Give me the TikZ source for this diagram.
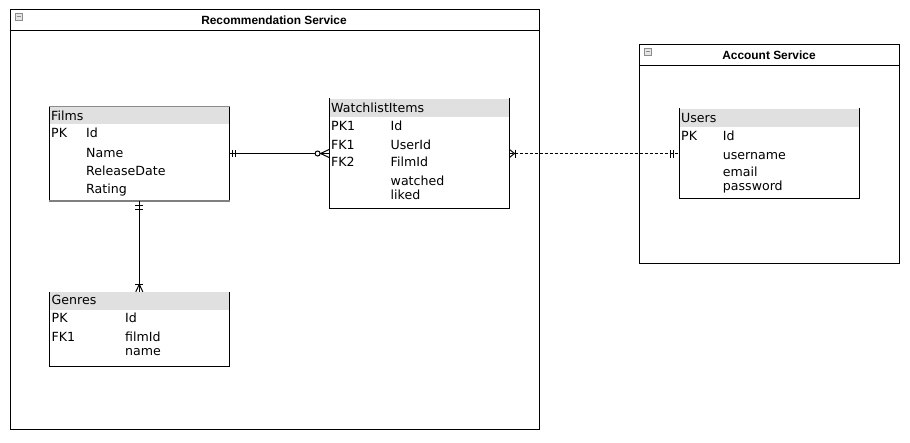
\documentclass[tikz,border=0pt]{standalone}
\usepackage{fontspec}
\setmainfont{DejaVu Sans}
\newfontfamily\titlefont{Liberation Sans}
\definecolor{hdrgray}{HTML}{E0E0E0}
\begin{document}
\begin{tikzpicture}[x=1pt, y=-1pt,
		conn/.style={line width=1pt},
		frame/.style={draw, line width=1pt, fill=white, inner sep=0pt},
		tbl/.style={fill=white, inner sep=0pt, minimum width=180pt,
			path picture={\fill[hdrgray] (path picture bounding box.north west) rectangle ([yshift=-18pt]path picture bounding box.north east);}},
		fld/.style={anchor=base west, inner sep=0pt, font=\fontsize{12.6}{14}\selectfont},
		ttl/.style={inner sep=0pt, font=\titlefont\bfseries\fontsize{11.9}{14}\selectfont},
		icon/.style={draw=black!45, fill=black!10, line width=0.6pt, minimum size=7pt, inner sep=0pt,
			path picture={\draw[line width=1pt] ([xshift=-2pt]path picture bounding box.center) -- ([xshift=2pt]path picture bounding box.center);}}]
		
		\useasboundingbox (0, 0) rectangle (910, 442);
		
		\node [frame, minimum width=529pt, minimum height=420pt] (recsvc) at (274.5, 219) {};
		\node [frame, minimum width=259.5pt, minimum height=219pt] (accsvc) at (769.25, 153.5) {};
		\draw [conn] ([yshift=-22pt]recsvc.north west) -- ([yshift=-22pt]recsvc.north east);
		\draw [conn] ([yshift=-22pt]accsvc.north west) -- ([yshift=-22pt]accsvc.north east);
		\node [icon] (recsvcIcon) at (18.5, 16.5) {};
		\node [icon] (accsvcIcon) at (648, 51.5) {};
		\node [ttl] (recsvcTitle) at (274, 20.5) {Recommendation Service};
		\node [ttl] (accsvcTitle) at (769, 55.5) {Account Service};
		
		\node [tbl, minimum height=95pt] (films) at (139.3, 153.5) {};
		\node [tbl, minimum height=110pt] (watch) at (419.3, 153.5) {};
		\node [tbl, minimum height=90pt] (users) at (769.3, 153.5) {};
		\node [tbl, minimum height=74pt] (genres) at (139.3, 329) {};
		\foreach \t in {films, watch, users, genres}
			\draw [conn] (\t.north west) -- (\t.south west) -- (\t.south east) -- (\t.north east);
		\draw [black!45] (films.north west) -- (films.north east);
		\draw [black!50, line width=1.6pt] (films.south west) -- (films.south east);
		
		\draw [conn] (films.east) -- (watch.west);
		\draw [conn] (films.south) -- (genres.north);
		\draw [conn, dash pattern=on 3pt off 2pt] (watch.east) -- (users.west);
		
		% films -> watchlist
		\draw [conn] ([xshift=3pt, yshift=3.5pt]films.east) -- ([xshift=3pt, yshift=-3.5pt]films.east);
		\draw [conn] ([xshift=6pt, yshift=3.5pt]films.east) -- ([xshift=6pt, yshift=-3.5pt]films.east);
		\draw [conn, fill=white] ([xshift=-11.5pt]watch.west) circle (2.5pt);
		\draw [conn] ([yshift=4pt]watch.west) -- ([xshift=-8.6pt]watch.west) -- ([yshift=-4pt]watch.west);
		
		% films -> genres
		\draw [conn] ([xshift=-4pt, yshift=-4.5pt]films.south) -- ([xshift=4pt, yshift=-4.5pt]films.south);
		\draw [conn] ([xshift=-4pt, yshift=-8.5pt]films.south) -- ([xshift=4pt, yshift=-8.5pt]films.south);
		\draw [conn] ([xshift=-4pt, yshift=7.5pt]genres.north) -- ([xshift=4pt, yshift=7.5pt]genres.north);
		\draw [conn] ([xshift=-3.5pt]genres.north) -- ([yshift=7.5pt]genres.north) -- ([xshift=3.5pt]genres.north);
		
		% watchlist -> users
		\draw [conn] ([yshift=4pt]watch.east) -- ([xshift=5pt]watch.east) -- ([yshift=-4pt]watch.east);
		\draw [conn] ([xshift=6pt, yshift=4pt]watch.east) -- ([xshift=6pt, yshift=-4pt]watch.east);
		\draw [conn] ([xshift=-8.5pt, yshift=4pt]users.west) -- ([xshift=-8.5pt, yshift=-4pt]users.west);
		\draw [conn] ([xshift=-5.5pt, yshift=4pt]users.west) -- ([xshift=-5.5pt, yshift=-4pt]users.west);
		
		\node [fld] (filmsTitle) at (51, 120.5) {Films};
		\node [fld] (filmsPK) at (51, 137.5) {PK};
		\node [fld] (filmsId) at (86, 137.5) {Id};
		\node [fld] (filmsName) at (86, 157) {Name};
		\node [fld] (filmsDate) at (86, 175) {ReleaseDate};
		\node [fld] (filmsRating) at (86, 193) {Rating};
		
		\node [fld] (watchTitle) at (331, 112.3) {WatchlistItems};
		\node [fld] (watchPK) at (331, 130) {PK1};
		\node [fld] (watchFKa) at (331, 149) {FK1};
		\node [fld] (watchFKb) at (331, 166.7) {FK2};
		\node [fld] (watchId) at (390.5, 130) {Id};
		\node [fld] (watchUser) at (390.5, 149) {UserId};
		\node [fld] (watchFilm) at (390.5, 166.7) {FilmId};
		\node [fld] (watchWatched) at (390.5, 185) {watched};
		\node [fld] (watchLiked) at (390.5, 199.3) {liked};
		
		\node [fld] (usersTitle) at (681, 122.7) {Users};
		\node [fld] (usersPK) at (681, 140) {PK};
		\node [fld] (usersId) at (722.7, 140) {Id};
		\node [fld] (usersName) at (722.7, 159.3) {username};
		\node [fld] (usersEmail) at (722.7, 176.7) {email};
		\node [fld] (usersPass) at (722.7, 190.7) {password};
		
		\node [fld] (genresTitle) at (51.5, 304.3) {Genres};
		\node [fld] (genresPK) at (51.5, 322.3) {PK};
		\node [fld] (genresFK) at (51.5, 341) {FK1};
		\node [fld] (genresId) at (125, 322.3) {Id};
		\node [fld] (genresFilm) at (125, 341) {filmId};
		\node [fld] (genresName) at (125, 355.7) {name};
		
\end{tikzpicture}
\end{document}
